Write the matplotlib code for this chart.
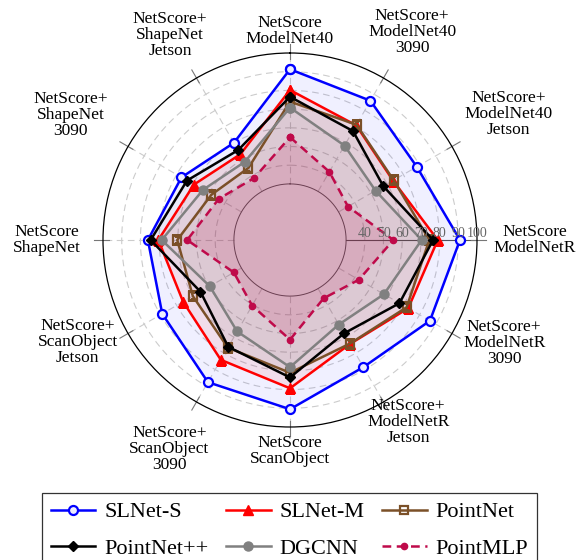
import numpy as np
import matplotlib
matplotlib.use("Agg")
import matplotlib.pyplot as plt

plt.rcParams['font.family'] = ['Liberation Serif', 'DejaVu Serif']

categories = ["NetScore\nModelNet40", "NetScore+\nModelNet40\n3090", "NetScore+\nModelNet40\nJetson",
              "NetScore\nModelNetR", "NetScore+\nModelNetR\n3090", "NetScore+\nModelNetR\nJetson",
              "NetScore\nScanObject", "NetScore+\nScanObject\n3090", "NetScore+\nScanObject\nJetson",
              "NetScore\nShapeNet", "NetScore+\nShapeNet\n3090", "NetScore+\nShapeNet\nJetson"]

slnet_s = [91.3, 86.0, 78.3, 90.9, 86.4, 78.5, 90.5, 87.8, 78.9, 76.0, 67.0, 60.0]
slnet_m = [80.2, 70.8, 63.6, 79.0, 73.0, 64.2, 79.3, 74.0, 66.0, 70.4, 59.3, 53.0]
pointnet = [74.0, 71.2, 64.0, 74.5, 72.0, 64.0, 71.0, 66.5, 60.0, 60.3, 48.5, 44.5]
pointnet_pp = [76.6, 67.3, 57.6, 76.5, 67.6, 57.7, 73.5, 66.0, 55.3, 74.5, 63.6, 55.5]
dgcnn = [70.8, 58.3, 52.8, 70.4, 58.0, 52.2, 68.0, 56.5, 49.5, 68.6, 53.7, 48.3]
pointmlp = [55.0, 42.1, 35.8, 55.3, 42.5, 36.0, 53.3, 40.5, 34.7, 55.0, 44.0, 38.3]

rticks = [40, 50, 60, 70, 80, 90, 100]

# label placement (theta in degrees clockwise from top, radius)
label_theta = [0, 30.4, 60, 90, 115.6, 147, 180, 210, 244.3, 270, 299.6, 329.7]
label_r = [112, 129, 135, 131, 127, 116, 113, 129, 126, 130, 135, 127]

series = [
    ("SLNet-S", slnet_s, dict(color="#0000ff", marker="o", mfc="#eeeeff", mec="#0000ff", ms=6.5, mew=1.6, lw=1.8), 0.06),
    ("SLNet-M", slnet_m, dict(color="#ff0000", marker="^", mfc="#ff0000", ms=7, lw=1.8), 0.08),
    ("PointNet", pointnet, dict(color="#7b5028", marker="s", mfc="none", mec="#7b5028", ms=6, mew=1.6, lw=1.8), 0.05),
    ("PointNet++", pointnet_pp, dict(color="black", marker="D", mfc="black", ms=5, lw=1.8), 0.03),
    ("DGCNN", dgcnn, dict(color="#808080", marker="o", mfc="#808080", ms=6.5, lw=1.8), 0.06),
    ("PointMLP", pointmlp, dict(color="#bf0a4a", marker="o", mfc="#bf0a4a", ms=4.5, lw=1.8, ls=(0, (3.5, 2.2))), 0.15),
]

n = len(categories)
theta = np.arange(n) * 2 * np.pi / n
theta_c = np.append(theta, theta[0])

fig = plt.figure(figsize=(5.79, 5.60), dpi=100)
ax = fig.add_axes([103/579, 1-427/560, 374/579, 374/560], projection='polar')
ax.set_theta_offset(np.pi/2)
ax.set_theta_direction(-1)
ax.set_ylim(0, 100)
ax.set_xticks([])
ax.set_yticks([])
ax.grid(False)
ax.spines['polar'].set_color('black')
ax.spines['polar'].set_linewidth(0.9)

# grid
circ = np.linspace(0, 2*np.pi, 400)
for r in rticks[:-1]:
    ax.plot(circ, [r]*len(circ), color="#cccccc", lw=0.8, ls=(0, (6, 4)), zorder=0.5)
ax.plot(circ, [30]*len(circ), color="#555555", lw=0.7, zorder=0.6)
for t in theta:
    if t == theta[3]:
        ax.plot([t, t], [30, 100], color="#555555", lw=0.8, zorder=0.6)
    else:
        ax.plot([t, t], [30, 100], color="#cccccc", lw=0.8, ls=(0, (6, 4)), zorder=0.5)
    ax.plot([t, t], [97, 105], color="#777777", lw=0.8, clip_on=False, zorder=0.6)

for r in rticks:
    ax.text(theta[3], r, str(r), ha='center', va='bottom', fontsize=10, color="#666666", zorder=5)

handles = {}
for name, vals, style, alpha in series:
    v = np.append(vals, vals[0])
    ax.fill(theta_c, v, color=style["color"], alpha=alpha, lw=0, zorder=1)
    line, = ax.plot(theta_c, v, label=name, zorder=3, **style)
    handles[name] = line

for lab, t, r in zip(categories, label_theta, label_r):
    ax.text(np.deg2rad(t), r, lab, ha='center', va='center', fontsize=12.5,
            linespacing=1.0, multialignment='center')

order = ["SLNet-S", "PointNet++", "SLNet-M", "DGCNN", "PointNet", "PointMLP"]
leg = fig.legend([handles[k] for k in order], order, ncol=3, loc='upper center',
                 bbox_to_anchor=(0.5, 1-493/560), bbox_transform=fig.transFigure,
                 fontsize=16, frameon=True, fancybox=False, edgecolor='black',
                 handlelength=2.0, handletextpad=0.4, columnspacing=0.8,
                 labelspacing=0.7, borderpad=0.4, borderaxespad=0)
leg.get_frame().set_linewidth(0.9)

fig.savefig("out.png", dpi=100)
